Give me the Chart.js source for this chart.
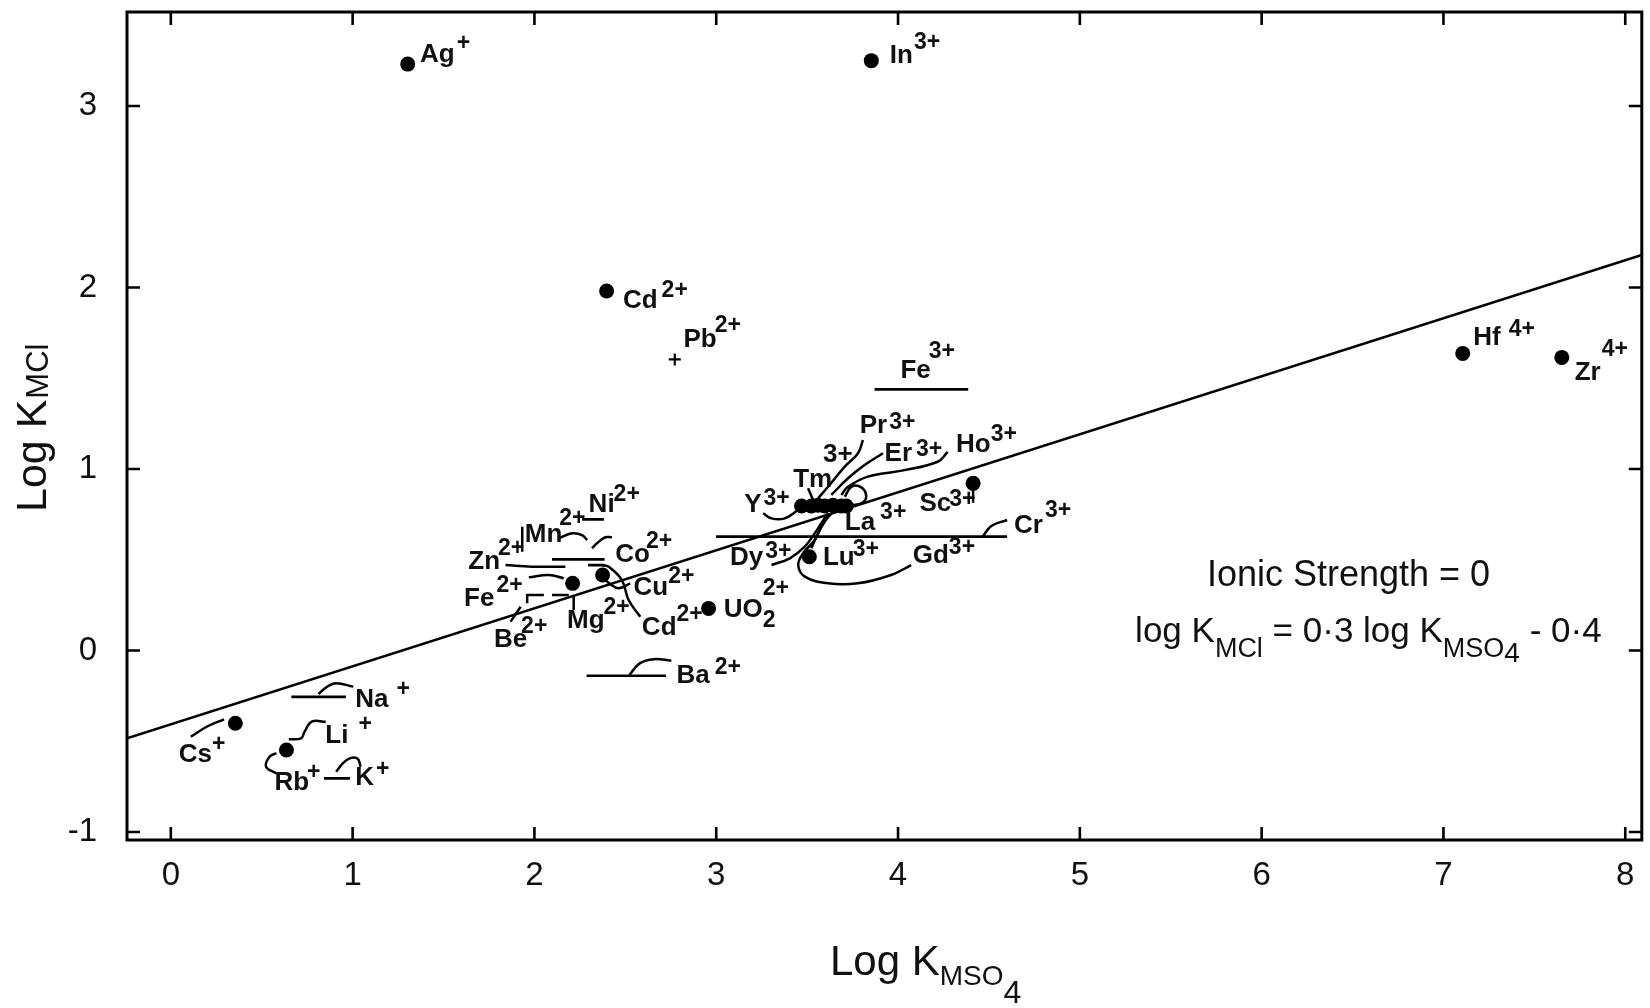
<!DOCTYPE html>
<html>
<head>
<meta charset="utf-8">
<script src="https://cdn.jsdelivr.net/npm/chart.js@4/dist/chart.umd.min.js"></script>
<style>
html,body{margin:0;padding:0;background:#fff;}
#wrap{width:1650px;height:1008px;}
</style>
</head>
<body>
<div id="wrap"><canvas id="c" width="1650" height="1008"></canvas></div>
<script>
// ---------------- data ----------------
const xTicks = [0, 1, 2, 3, 4, 5, 6, 7, 8];
const yTicks = [-1, 0, 1, 2, 3];
const xMin = -0.241, xMax = 8.091;
const yMin = -1.044, yMax = 3.518;

// filled circles (log K_MSO4, log K_MCl)
const dotIons = ['Ag+', 'In3+', 'Cd2+', 'Hf4+', 'Zr4+', 'Cs+', 'Rb+/Li+', 'Sc3+', 'Lu3+', 'UO2 2+', 'Fe2+', 'Co2+/Cu2+'];
const dotX    = [1.303, 3.853, 2.397, 7.106, 7.651, 0.355, 0.636, 4.413, 3.512, 2.958, 2.210, 2.375];
const dotY    = [3.231, 3.250, 1.981, 1.637, 1.615, -0.401, -0.548, 0.921, 0.517, 0.232, 0.370, 0.416];

// rare-earth cluster
const reX = [3.469, 3.523, 3.560, 3.597, 3.642, 3.688, 3.715];
const reY = [0.796, 0.796, 0.800, 0.796, 0.800, 0.796, 0.796];

// Pb2+ (cross)
const pbX = [2.772];
const pbY = [1.604];

// ranges (horizontal bars)
const rangeIons = ['Fe3+', 'Cr3+', 'Ba2+', 'Na+', 'K+', 'Ni2+', 'M2+ a', 'M2+ b', 'Mg2+'];
const rangeX0   = [3.871, 2.999, 2.287, 0.663, 0.842, 2.262, 2.097, 2.295, 2.097];
const rangeX1   = [4.386, 4.600, 2.724, 0.963, 0.986, 2.382, 2.386, 2.386, 2.189];
const rangeY    = [1.439, 0.627, -0.139, -0.255, -0.704, 0.723, 0.502, 0.471, 0.306];

// fitted line as drawn
const fitX = [-0.241, 8.091];
const fitY = [-0.484, 2.179];

// leader curves
const leaderCs = [[0.110,-0.475],[0.197,-0.420],[0.293,-0.379]];
const leaderNa = [[1.004,-0.199],[0.909,-0.181],[0.861,-0.199],[0.812,-0.240]];
const leaderLi = [[0.852,-0.392],[0.775,-0.392],[0.736,-0.447],[0.716,-0.484],[0.649,-0.489]];
const leaderRb = [[0.581,-0.677],[0.524,-0.640],[0.543,-0.585],[0.581,-0.566]];
const leaderK  = [[0.909,-0.668],[0.967,-0.603],[1.025,-0.594],[1.044,-0.640]];
const leaderBa = [[2.522,-0.135],[2.579,-0.071],[2.656,-0.048],[2.753,-0.056]];
const leaderCr = [[4.465,0.627],[4.513,0.686],[4.600,0.719]];
const leaderGd = [[4.072,0.471],[3.962,0.416],[3.779,0.370],[3.615,0.370],[3.487,0.407],[3.451,0.471],[3.478,0.536],[3.542,0.609],[3.578,0.682],[3.615,0.747]];
const leaderDy = [[3.304,0.471],[3.405,0.508],[3.487,0.572],[3.542,0.646],[3.578,0.701],[3.615,0.756]];
const leaderLu = [[3.523,0.563],[3.560,0.646],[3.597,0.710],[3.642,0.765]];
const leaderY  = [[3.258,0.756],[3.304,0.728],[3.377,0.728],[3.450,0.774]];
const leaderTm = [[3.505,0.894],[3.533,0.829]];
const leaderPr = [[3.807,1.160],[3.780,1.087],[3.707,1.013],[3.615,0.902],[3.560,0.839]];
const leaderEr = [[3.917,1.087],[3.816,1.022],[3.725,0.949],[3.633,0.857]];
const leaderHo = [[4.273,1.095],[4.218,1.040],[4.036,0.994],[3.834,0.958],[3.725,0.902],[3.688,0.857]];
const leaderLa = [[3.707,0.847],[3.743,0.902],[3.798,0.899],[3.825,0.847],[3.798,0.811],[3.743,0.802]];
const leaderSc = [[4.413,0.921],[4.413,0.814]];
const leaderZn = [[1.841,0.471],[1.987,0.462],[2.170,0.462]];
const leaderMn = [[2.134,0.618],[2.207,0.646],[2.262,0.636],[2.290,0.609]];
const leaderZnDown = [[1.933,0.682],[1.933,0.544]];
const leaderCo = [[2.426,0.624],[2.390,0.624],[2.344,0.591],[2.317,0.563]];
const leaderFe = [[1.969,0.403],[2.079,0.416],[2.161,0.398]];
const leaderFeBracket = [[1.960,0.260],[1.960,0.306],[2.052,0.306]];
const leaderMgUp = [[2.216,0.223],[2.216,0.306]];
const leaderBe = [[1.869,0.159],[1.924,0.241]];
const leaderCu = [[2.527,0.370],[2.463,0.343],[2.417,0.366],[2.390,0.388]];
const leaderCdLow = [[2.582,0.186],[2.518,0.278],[2.481,0.388],[2.408,0.462],[2.371,0.471]];

const curvedLeaders = [leaderCs, leaderNa, leaderLi, leaderRb, leaderK, leaderBa, leaderCr, leaderGd, leaderDy, leaderLu,
  leaderY, leaderPr, leaderEr, leaderHo, leaderLa, leaderZn, leaderMn, leaderCo, leaderFe, leaderCu, leaderCdLow, leaderBe];
const straightLeaders = [leaderTm, leaderSc, leaderZnDown, leaderFeBracket, leaderMgUp];

// ion labels: base text, superscript, optional subscript, anchor (data units), raise & gap of superscript
const ionLabels = [
  {b:'Ag', s:'+',  x:1.371, y:3.244, r:12, g:2},
  {b:'In', s:'3+', x:3.955, y:3.235, r:14, g:1},
  {b:'Cd', s:'2+', x:2.487, y:1.885, r:11, g:4},
  {b:'Pb', s:'2+', x:2.820, y:1.674, r:15, g:-2},
  {b:'Fe', s:'3+', x:4.013, y:1.500, r:20, g:-2},
  {b:'Hf', s:'4+', x:7.164, y:1.683, r:9,  g:8},
  {b:'Zr', s:'4+', x:7.722, y:1.490, r:24, g:1},
  {b:'Na', s:'+',  x:1.015, y:-0.310, r:11, g:8},
  {b:'Li', s:'+',  x:0.850, y:-0.508, r:12, g:10},
  {b:'Cs', s:'+',  x:0.044, y:-0.613, r:11, g:0},
  {b:'Rb', s:'+',  x:0.570, y:-0.769, r:11, g:-2},
  {b:'K',  s:'+',  x:1.015, y:-0.741, r:9,  g:2},
  {b:'Zn', s:'2+', x:1.636, y:0.447, r:14, g:-2},
  {b:'Mn', s:'2+', x:1.947, y:0.599, r:17, g:-3},
  {b:'Ni', s:'2+', x:2.298, y:0.765, r:11, g:-1},
  {b:'Co', s:'2+', x:2.445, y:0.489, r:14, g:-4},
  {b:'Fe', s:'2+', x:1.613, y:0.247, r:14, g:2},
  {b:'Cu', s:'2+', x:2.545, y:0.306, r:12, g:0},
  {b:'Mg', s:'2+', x:2.179, y:0.122, r:14, g:-1},
  {b:'Cd', s:'2+', x:2.591, y:0.085, r:14, g:0},
  {b:'Be', s:'2+', x:1.777, y:0.021, r:14, g:-6},
  {b:'UO', s:'2+', sub:'2', x:3.041, y:0.186, r:22, g:0},
  {b:'Ba', s:'2+', x:2.781, y:-0.181, r:9, g:5},
  {b:'Pr', s:'3+', x:3.789, y:1.197, r:4, g:2},
  {b:'3+',         x:3.587, y:1.040},
  {b:'Er', s:'3+', x:3.926, y:1.044, r:5, g:4},
  {b:'Ho', s:'3+', x:4.319, y:1.095, r:11, g:0},
  {b:'Tm',         x:3.423, y:0.902},
  {b:'Y',  s:'3+', x:3.154, y:0.765, r:7, g:2},
  {b:'La', s:'3+', x:3.707, y:0.664, r:11, g:5},
  {b:'Sc', s:'3+', x:4.118, y:0.769, r:5, g:-2},
  {b:'Dy', s:'3+', x:3.076, y:0.471, r:7, g:2},
  {b:'Lu', s:'3+', x:3.587, y:0.471, r:9, g:-2},
  {b:'Gd', s:'3+', x:4.081, y:0.480, r:9, g:0},
  {b:'Cr', s:'3+', x:4.638, y:0.646, r:16, g:2}
];

// annotation texts (data-unit anchors)
const noteIonic = {x:5.699, y:0.355};
const noteEq    = {x:5.304, y:0.047};

// ---------------- helpers ----------------
const FAM = '"Liberation Sans", Arial, sans-serif';
const INK = '#111';
const toPts = (xs, ys) => xs.map((x, i) => ({x: x, y: ys[i]}));
const pairPts = arr => arr.map(p => ({x: p[0], y: p[1]}));

function drawParts(ctx, parts, x, y) {
  let cx = x;
  for (const p of parts) {
    ctx.font = p.f;
    cx += (p.gap || 0);
    ctx.fillText(p.t, cx, y + (p.dy || 0));
    cx += ctx.measureText(p.t).width;
  }
  return cx;
}

// ---------------- datasets ----------------
const datasets = [];
datasets.push({type:'line', data: toPts(fitX, fitY), borderColor:'#000', borderWidth:2.6, pointRadius:0, tension:0});
rangeY.forEach((y, i) => datasets.push({
  type:'line', data:[{x:rangeX0[i], y:y}, {x:rangeX1[i], y:y}],
  borderColor:'#000', borderWidth:2.7, pointRadius:0, tension:0
}));
curvedLeaders.forEach(L => datasets.push({
  type:'line', data: pairPts(L), borderColor:'#000', borderWidth:2.5, pointRadius:0, tension:0.4
}));
straightLeaders.forEach(L => datasets.push({
  type:'line', data: pairPts(L), borderColor:'#000', borderWidth:2.5, pointRadius:0, tension:0
}));
datasets.push({type:'scatter', data: toPts(dotX, dotY), pointRadius:7.5, backgroundColor:'#000', borderWidth:0, pointStyle:'circle'});
datasets.push({type:'scatter', data: toPts(reX, reY), pointRadius:7.5, backgroundColor:'#000', borderWidth:0, pointStyle:'circle'});
datasets.push({type:'scatter', data: toPts(pbX, pbY), pointRadius:6, pointStyle:'cross', borderColor:'#000', borderWidth:2.2});

// ---------------- plugin: frame, ticks, labels, titles ----------------
const decor = {
  id: 'decor',
  afterDatasetsDraw(chart) {
    const ctx = chart.ctx, a = chart.chartArea;
    const sx = chart.scales.x, sy = chart.scales.y;
    ctx.save();
    ctx.strokeStyle = '#000';
    ctx.lineWidth = 3;
    ctx.strokeRect(a.left, a.top, a.right - a.left, a.bottom - a.top);
    ctx.lineWidth = 2.6;
    const TL = 13;
    ctx.beginPath();
    xTicks.forEach(v => {
      const p = sx.getPixelForValue(v);
      ctx.moveTo(p, a.bottom); ctx.lineTo(p, a.bottom - TL);
      ctx.moveTo(p, a.top); ctx.lineTo(p, a.top + TL);
    });
    yTicks.forEach(v => {
      const p = sy.getPixelForValue(v);
      ctx.moveTo(a.left, p); ctx.lineTo(a.left + TL, p);
      ctx.moveTo(a.right, p); ctx.lineTo(a.right - TL, p);
    });
    ctx.stroke();

    // ion labels
    ctx.fillStyle = INK;
    ctx.textBaseline = 'alphabetic';
    ctx.textAlign = 'left';
    const fb = 'bold 26px ' + FAM, fs = 'bold 23px ' + FAM;
    ionLabels.forEach(L => {
      const x = sx.getPixelForValue(L.x), y = sy.getPixelForValue(L.y);
      ctx.font = fb;
      ctx.fillText(L.b, x, y);
      let ex = x + ctx.measureText(L.b).width;
      if (L.sub) { ctx.font = fs; ctx.fillText(L.sub, ex, y + 10); }
      if (L.s) { ctx.font = fs; ctx.fillText(L.s, ex + (L.g || 0), y - (L.r || 10)); }
    });

    // notes
    const f35 = '35px ' + FAM, f27 = '27px ' + FAM;
    ctx.font = '36px ' + FAM;
    ctx.fillText('Ionic Strength = 0', sx.getPixelForValue(noteIonic.x), sy.getPixelForValue(noteIonic.y));
    drawParts(ctx, [
      {t:'log K', f:f35},
      {t:'MCl', f:f27, dy:15},
      {t:' = 0\u00b73 log K', f:f35},
      {t:'MSO', f:f27, dy:15},
      {t:'4', f:'28px ' + FAM, dy:20},
      {t:' - 0\u00b74', f:f35}
    ], sx.getPixelForValue(noteEq.x), sy.getPixelForValue(noteEq.y));

    // axis titles
    drawParts(ctx, [
      {t:'Log K', f:'42px ' + FAM},
      {t:'MSO', f:'28px ' + FAM, dy:10},
      {t:'4', f:'32px ' + FAM, dy:28}
    ], 830, 975);
    ctx.save();
    ctx.translate(46, 512);
    ctx.rotate(-Math.PI / 2);
    drawParts(ctx, [
      {t:'Log K', f:'43px ' + FAM},
      {t:'MCl', f:'31px ' + FAM, dy:2, gap:1}
    ], 0, 0);
    ctx.restore();
    ctx.restore();
  }
};

new Chart(document.getElementById('c'), {
  type: 'scatter',
  data: { datasets: datasets },
  options: {
    responsive: false,
    devicePixelRatio: 1,
    animation: false,
    layout: { padding: { top: 12, right: 4, left: 0, bottom: 0 } },
    plugins: { legend: { display: false }, tooltip: { enabled: false } },
    scales: {
      x: {
        type: 'linear', min: xMin, max: xMax,
        grid: { display: false, drawTicks: false },
        border: { display: false },
        afterBuildTicks: s => { s.ticks = xTicks.map(v => ({value: v})); },
        afterFit: s => { s.height = 168; s.paddingLeft = 0; s.paddingRight = 0; },
        ticks: { font: { family: FAM, size: 33 }, color: INK, padding: 16, maxRotation: 0, autoSkip: false,
                 callback: v => String(v) }
      },
      y: {
        type: 'linear', min: yMin, max: yMax,
        grid: { display: false, drawTicks: false },
        border: { display: false },
        afterBuildTicks: s => { s.ticks = yTicks.map(v => ({value: v})); },
        afterFit: s => { s.width = 127; s.paddingTop = 0; s.paddingBottom = 0; },
        ticks: { font: { family: FAM, size: 33 }, color: INK, padding: 30, autoSkip: false,
                 callback: v => String(v) }
      }
    }
  },
  plugins: [decor]
});
</script>
</body>
</html>
